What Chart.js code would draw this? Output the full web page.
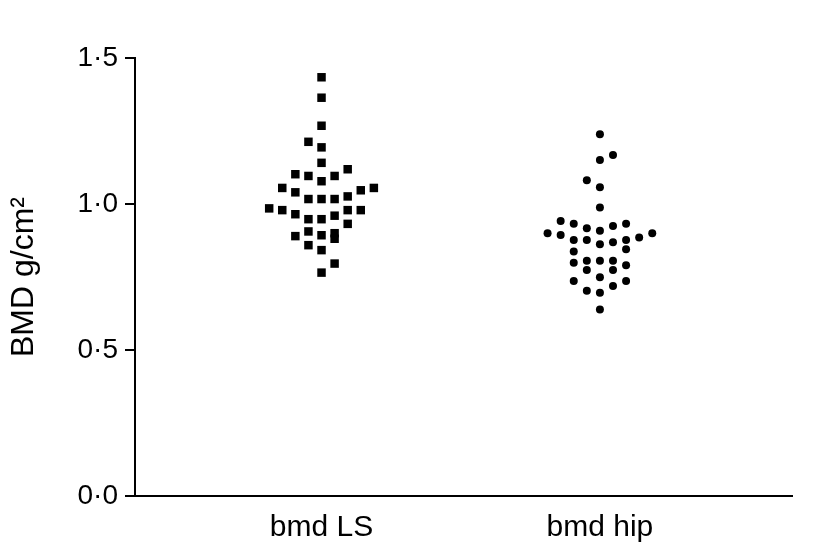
<!DOCTYPE html>
<html>
<head>
<meta charset="utf-8">
<script src="https://cdn.jsdelivr.net/npm/chart.js@4"></script>
<style>
  body { margin: 0; background: #fff; }
</style>
</head>
<body>
<canvas id="bmdChart" width="824" height="559"></canvas>
<script>
// Data
const categories = ['bmd LS', 'bmd hip'];
const yTicks = [0, 0.5, 1.0, 1.5];

const lsValues = [1.434, 1.364, 1.268, 1.213, 1.194, 1.141, 1.119, 1.102, 1.096, 1.096,
    1.078, 1.055, 1.055, 1.047, 1.040, 1.026, 1.017, 1.017, 1.017, 0.985,
    0.979, 0.979, 0.979, 0.965, 0.960, 0.948, 0.948, 0.932, 0.906, 0.900,
    0.893, 0.890, 0.881, 0.859, 0.842, 0.796, 0.765];
// column slot of each point in the swarm (-4 .. 4)
const lsSlots = [0, 0, 0, -1, 0, 0, 2, -2, -1, 1,
    0, -3, 4, 3, -2, 2, -1, 0, 1, -4,
    -3, 2, 3, -2, 1, -1, 0, 2, -1, 1,
    0, -2, 1, -1, 0, 1, 0];

const hipValues = [1.239, 1.168, 1.151, 1.081, 1.057, 0.988, 0.942, 0.932, 0.932, 0.925,
    0.917, 0.908, 0.900, 0.900, 0.894, 0.885, 0.877, 0.877, 0.877, 0.869,
    0.862, 0.845, 0.837, 0.806, 0.806, 0.806, 0.799, 0.790, 0.774, 0.774,
    0.749, 0.736, 0.736, 0.719, 0.703, 0.696, 0.639];
const hipSlots = [0, 1, 0, -1, 0, 0, -3, -2, 2, 1,
    -1, 0, -4, 4, -3, 3, -2, -1, 2, 1,
    0, 2, -2, -1, 0, 1, -2, 2, -1, 1,
    0, -2, 2, 1, -1, 0, 0];

const SLOT_STEP = 0.047;

function swarm(values, slots, center) {
    return values.map((v, i) => ({ x: center + slots[i] * SLOT_STEP, y: v }));
}

function fmt(v) {
    return v.toFixed(1).replace('.', '\u00B7');
}

const FONT = 'Liberation Sans, Arial, Helvetica, sans-serif';

new Chart(document.getElementById('bmdChart'), {
    type: 'scatter',
    data: {
        datasets: [{
            label: categories[0],
            data: swarm(lsValues, lsSlots, 1),
            pointStyle: 'rect',
            pointRadius: 6,
            backgroundColor: '#000',
            borderColor: '#000',
            borderWidth: 0
        }, {
            label: categories[1],
            data: swarm(hipValues, hipSlots, 2),
            pointStyle: 'circle',
            pointRadius: 4,
            backgroundColor: '#000',
            borderColor: '#000',
            borderWidth: 0
        }]
    },
    options: {
        responsive: false,
        animation: false,
        layout: {
            padding: { top: 58, right: 32, bottom: 0, left: 0 }
        },
        plugins: {
            legend: { display: false },
            tooltip: { enabled: false }
        },
        scales: {
            x: {
                type: 'linear',
                min: 0.33,
                max: 2.69,
                afterBuildTicks: (scale) => {
                    scale.ticks = [{ value: 1 }, { value: 2 }];
                },
                afterFit: (scale) => { scale.height = 63; },
                grid: { display: false },
                border: { display: true, color: '#000', width: 2 },
                ticks: {
                    color: '#000',
                    padding: 6,
                    font: { family: FONT, size: 30 },
                    callback: (value) => categories[value - 1]
                }
            },
            y: {
                min: 0,
                max: 1.5,
                afterBuildTicks: (scale) => {
                    scale.ticks = yTicks.map(v => ({ value: v }));
                },
                afterFit: (scale) => { scale.width = 135; },
                grid: {
                    drawOnChartArea: false,
                    color: '#000',
                    lineWidth: 2,
                    tickLength: 10
                },
                border: { display: true, color: '#000', width: 2 },
                title: {
                    display: true,
                    text: 'BMD g/cm\u00B2',
                    color: '#000',
                    font: { family: FONT, size: 32 },
                    padding: { top: 5, bottom: 6 }
                },
                ticks: {
                    color: '#000',
                    padding: 7,
                    font: { family: FONT, size: 28 },
                    callback: (value) => fmt(value)
                }
            }
        }
    }
});
</script>
</body>
</html>
